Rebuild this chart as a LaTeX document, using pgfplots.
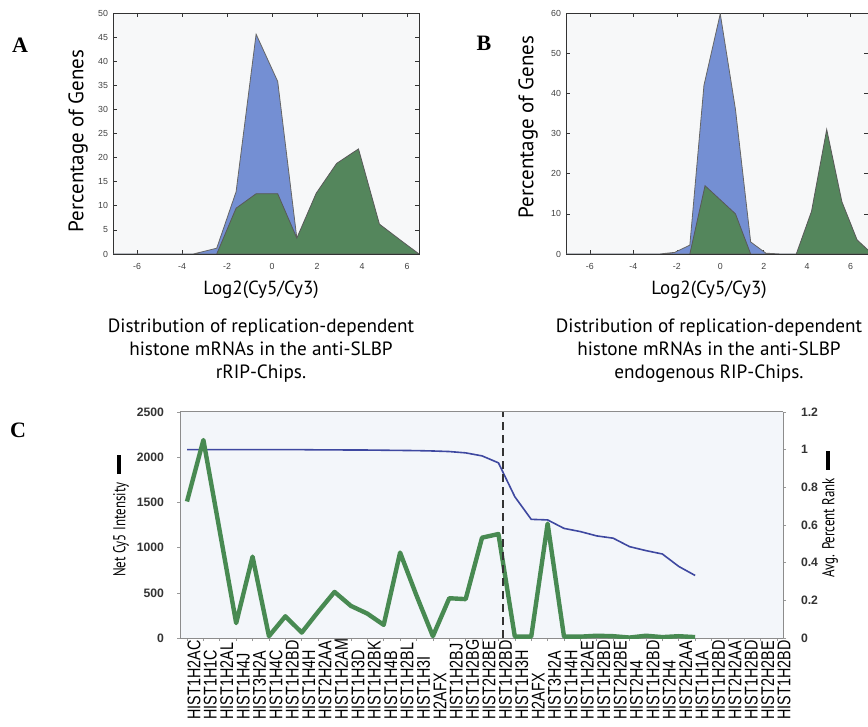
\documentclass[border=0pt]{standalone}
\usepackage{pgfplots}
\pgfplotsset{compat=1.18}
\usepackage{pgfplotstable}
\usepackage{fontspec}
\setmainfont{PT Sans}
\newfontfamily\tickfont{Liberation Sans}
\newfontfamily\narrowtick[FakeStretch=0.78]{Liberation Sans}
\newfontfamily\condfont[FakeStretch=0.75]{PT Sans}
\newfontfamily\letterfont{Liberation Serif}

\definecolor{histblue}{RGB}{116,143,211}
\definecolor{histgreen}{RGB}{84,134,92}
\definecolor{lineblue}{RGB}{62,72,160}
\definecolor{linegreen}{RGB}{72,138,82}
\definecolor{panelbg}{RGB}{243,246,250}
\definecolor{histbg}{RGB}{247,248,249}

% panel C: net Cy5 intensity (left axis) and avg. percent rank (right axis)
\pgfplotstableread{
idx green rank
1  1510 1.000
2  2190 1.000
3  1180 1.000
4  165  1.000
5  900  1.000
6  20   1.000
7  240  1.000
8  60   1.000
9  290  0.999
10 510  0.999
11 355  0.998
12 270  0.998
13 145  0.997
14 945  0.996
15 470  0.995
16 20   0.993
17 440  0.990
18 430  0.983
19 1110 0.967
20 1150 0.930
21 15   0.750
22 15   0.630
23 1265 0.627
24 15   0.582
25 15   0.565
26 25   0.542
27 20   0.530
28 5    0.485
29 25   0.464
30 10   0.446
31 20   0.380
32 10   0.332
}\histC

\pgfplotsset{
  histpanel/.style={
    scale only axis,
    height=120.5pt,
    axis background/.style={fill=histbg},
    axis line style={black!80, line width=0.4pt},
    tick align=inside, tick pos=both,
    major tick length=2pt,
    tick style={black!80, line width=0.3pt},
    ymin=0,
    xtick={-6,-4,...,6},
    tick label style={font=\tickfont\fontsize{4.4}{5}\selectfont, text=black!75},
    /pgf/number format/assume math mode=true,
    xticklabel style={yshift=-1pt},
    yticklabel style={xshift=1pt},
  }
}

\begin{document}
\begin{tikzpicture}

% ---------- A ----------
\begin{axis}[histpanel, at={(56.5pt,-127pt)}, anchor=south west,
  width=153pt, xmin=-7.07, xmax=6.53, ymax=50, ytick={0,5,...,50}]
\addplot[fill=histblue, draw=black!60, line width=0.4pt] coordinates {
  (-7.07,0) (-3.5,0) (-2.46,1.2) (-1.6,12.9) (-0.71,45.6) (0.25,35.8)
  (1.1,3.3) (1.96,1.5) (2.87,0.8) (3.84,0.5) (4.77,0.2) (5.7,0) (6.53,0)
} \closedcycle;
\addplot[fill=histgreen, draw=black!65, line width=0.4pt] coordinates {
  (-2.46,0) (-1.6,9.5) (-0.71,12.5) (0.25,12.5) (1.1,3.3) (1.96,12.6)
  (2.87,18.8) (3.84,21.8) (4.77,6.2) (5.7,2.9) (6.53,0)
} \closedcycle;
\end{axis}

% ---------- B ----------
\begin{axis}[histpanel, at={(283pt,-127pt)}, anchor=south west,
  width=151pt, xmin=-7.1, xmax=6.8, ymax=60, ytick={0,10,...,60}]
\addplot[fill=histblue, draw=black!60, line width=0.4pt] coordinates {
  (-7.1,0) (-2.8,0) (-2.1,0.4) (-1.4,2.2) (-0.75,42) (0,59.8) (0.7,36)
  (1.4,3) (2.1,0.2) (2.8,0) (6.8,0)
} \closedcycle;
\addplot[fill=histgreen, draw=black!65, line width=0.4pt] coordinates {
  (-1.4,0) (-0.7,17) (0,13.5) (0.7,10) (1.4,0)
} \closedcycle;
\addplot[fill=histgreen, draw=black!65, line width=0.4pt] coordinates {
  (3.5,0) (4.2,10.6) (4.9,31) (5.6,13) (6.3,3.5) (7.0,0)
} \closedcycle;
\end{axis}

% ---------- C ----------
\pgfplotsset{
  rankpanel/.style={
    scale only axis,
    at={(90pt,-319pt)}, anchor=south west,
    width=301.5pt, height=113pt,
    xmin=0.573, xmax=37.36,
    axis line style={black!45, line width=0.5pt},
    tick align=outside,
    major tick length=1.5pt,
    tick style={black!40, line width=0.3pt},
    tick label style={font=\tickfont\bfseries\fontsize{6.1}{7}\selectfont, text=black!80},
    /pgf/number format/assume math mode=true,
    /pgf/number format/1000 sep={},
  }
}
\begin{axis}[rankpanel,
  axis background/.style={fill=panelbg},
  ymin=0, ymax=1.2, ytick={0,0.2,...,1.2},
  axis y line*=right, axis x line*=top, xtick=\empty,
  yticklabel style={xshift=4pt}]
\addplot[lineblue, line width=0.8pt] table[x=idx, y=rank] {\histC};
\end{axis}
\begin{axis}[rankpanel,
  ymin=0, ymax=2500, ytick={0,500,...,2500},
  axis y line*=left, axis x line*=bottom,
  xtick={1,...,37},
  yticklabel style={xshift=-3pt},
  xticklabel style={font=\narrowtick\fontsize{9.2}{10}\selectfont, text=black,
    rotate=90, anchor=east, yshift=-3.5pt, inner sep=1pt,
    text width=38pt, align=left},
  xticklabels={HIST1H2AC,HIST1H1C,HIST1H2AL,HIST1H4J,HIST3H2A,HIST1H4C,
    HIST1H2BD,HIST1H4H,HIST2H2AA,HIST1H2AM,HIST1H3D,HIST1H2BK,HIST1H4B,
    HIST1H2BL,HIST1H3I,H2AFX,HIST1H2BJ,HIST1H2BG,HIST2H2BE,HIST1H2BD,
    HIST1H3H,H2AFX,HIST3H2A,HIST1H4H,HIST1H2AE,HIST1H2BD,HIST2H2BE,
    HIST2H4,HIST1H2BD,HIST2H4,HIST2H2AA,HIST1H1A,HIST1H2BD,HIST2H2AA,
    HIST1H2BD,HIST2H2BE,HIST1H2BD}]
\addplot[linegreen, line width=2.2pt, line join=round] table[x=idx, y=green] {\histC};
\addplot[black!80, line width=1pt, dash pattern=on 4pt off 2.5pt] coordinates {(20.25,0) (20.25,2500)};
\end{axis}

% ---------- labels ----------
\node[font=\letterfont\bfseries\fontsize{11}{13}\selectfont] at (10pt,-22.5pt) {A};
\node[font=\letterfont\bfseries\fontsize{11}{13}\selectfont] at (242pt,-21.5pt) {B};
\node[font=\letterfont\bfseries\fontsize{11}{13}\selectfont] at (9pt,-215pt) {C};

\node[rotate=90, font=\fontsize{10.5}{12}\selectfont] at (39pt,-70.5pt) {Percentage of Genes};
\node[rotate=90, font=\fontsize{10.5}{12}\selectfont] at (264pt,-63.5pt) {Percentage of Genes};

\node[font=\fontsize{9.5}{11}\selectfont] at (130.5pt,-145pt) {Log2(Cy5/Cy3)};
\node[font=\fontsize{9.6}{11.5}\selectfont, align=center] at (130.5pt,-175.5pt)
  {Distribution of replication-dependent\\histone mRNAs in the anti-SLBP\\rRIP-Chips.};
\node[font=\fontsize{9.5}{11}\selectfont] at (354.5pt,-145pt) {Log2(Cy5/Cy3)};
\node[font=\fontsize{9.6}{11.5}\selectfont, align=center] at (354.5pt,-175.5pt)
  {Distribution of replication-dependent\\histone mRNAs in the anti-SLBP\\endogenous RIP-Chips.};

\node[rotate=90, font=\condfont\fontsize{8.6}{10}\selectfont] at (60.5pt,-258pt)
  {Net Cy5 Intensity\hspace{0.5em}\rule[0.45ex]{1.1em}{2.2pt}};
\node[rotate=90, font=\condfont\fontsize{8.6}{10}\selectfont] at (415pt,-257pt)
  {Avg. Percent Rank\hspace{0.5em}\rule[0.45ex]{1.1em}{2.2pt}};

\pgfresetboundingbox
\path (0,0) rectangle (434pt,-363.5pt);
\end{tikzpicture}
\end{document}
